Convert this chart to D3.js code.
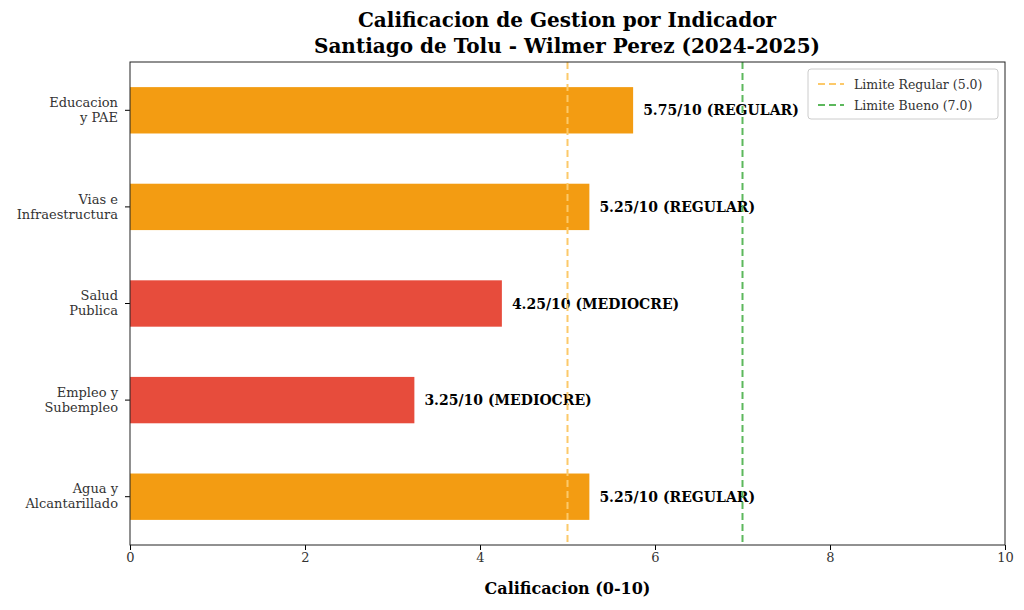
<!DOCTYPE html>
<html><head><meta charset="utf-8">
<script src="https://cdn.jsdelivr.net/npm/d3@7"></script>
<style>body{margin:0;background:#fff;font-family:"DejaVu Serif",serif;}</style>
</head><body>
<svg id="chart" width="1024" height="610"></svg>
<script>
var categories = [["Educacion","y PAE"],["Vias e","Infraestructura"],["Salud","Publica"],["Empleo y","Subempleo"],["Agua y","Alcantarillado"]];
var scores = [5.75, 5.25, 4.25, 3.25, 5.25];
var ratings = ["REGULAR","REGULAR","MEDIOCRE","MEDIOCRE","REGULAR"];
var xTicks = [0, 2, 4, 6, 8, 10];
var thresholds = [5.0, 7.0];
var thresholdLabels = ["Limite Regular (5.0)", "Limite Bueno (7.0)"];

var svg = d3.select("#chart");
var m = {left: 130, right: 1005, top: 62, bottom: 545};

var x = d3.scaleLinear().domain([0, 10]).range([m.left, m.right]);
var y = d3.scaleBand().domain(d3.range(categories.length)).range([m.top, m.bottom]).paddingInner(0.52).paddingOuter(0.26);

function color(v){ return v < 5 ? "#e74c3c" : "#f39c12"; }

svg.append("text").attr("x", 567).attr("y", 27).attr("text-anchor","middle")
  .attr("font-size", 20).attr("font-weight","bold").text("Calificacion de Gestion por Indicador");
svg.append("text").attr("x", 567).attr("y", 53).attr("text-anchor","middle")
  .attr("font-size", 20).attr("font-weight","bold").text("Santiago de Tolu - Wilmer Perez (2024-2025)");

// bars
svg.selectAll("rect.bar").data(scores).enter().append("rect")
  .attr("x", x(0)).attr("y", (d,i) => y(i))
  .attr("width", d => x(d) - x(0)).attr("height", y.bandwidth())
  .attr("fill", d => color(d));

svg.selectAll("text.val").data(scores).enter().append("text")
  .attr("x", d => x(d) + 10).attr("y", (d,i) => y(i) + y.bandwidth()/2 + 5)
  .attr("font-size", 14).attr("font-weight","bold")
  .text((d,i) => d.toFixed(2) + "/10 (" + ratings[i] + ")");

// threshold lines
var lineColors = ["#fcc96a", "#5cb85c"];
thresholds.forEach(function(t, i){
  svg.append("line").attr("x1", x(t)).attr("x2", x(t)).attr("y1", m.top).attr("y2", m.bottom)
    .attr("stroke", lineColors[i]).attr("stroke-width", 2).attr("stroke-dasharray","7,4");
});

// axes
svg.append("g").attr("transform","translate(0," + m.bottom + ")")
  .call(d3.axisBottom(x).tickValues(xTicks).tickSize(5).tickFormat(d3.format("d")))
  .call(g => g.select(".domain").remove())
  .selectAll("text").attr("font-size", 13).attr("font-family","DejaVu Serif").attr("fill","#333");

var yAxis = svg.append("g").attr("transform","translate(" + m.left + ",0)")
  .call(d3.axisLeft(y).tickSize(5).tickFormat(""));
yAxis.select(".domain").remove();
yAxis.selectAll(".tick").each(function(d){
  var t = d3.select(this).append("text").attr("x", -12).attr("text-anchor","end")
    .attr("font-size", 13).attr("fill","#333").attr("font-family","DejaVu Serif");
  t.append("tspan").attr("x", -12).attr("dy", "-0.25em").text(categories[d][0]);
  t.append("tspan").attr("x", -12).attr("dy", "1.15em").text(categories[d][1]);
});

svg.append("rect").attr("x", m.left).attr("y", m.top).attr("width", m.right - m.left)
  .attr("height", m.bottom - m.top).attr("fill","none").attr("stroke","#222").attr("stroke-width",1);

svg.append("text").attr("x", (m.left + m.right)/2).attr("y", 594).attr("text-anchor","middle")
  .attr("font-size", 16).attr("font-weight","bold").text("Calificacion (0-10)");

// legend
var lg = svg.append("g").attr("transform","translate(808,69)");
lg.append("rect").attr("width", 190).attr("height", 50).attr("rx", 3)
  .attr("fill","#fff").attr("stroke","#ccc");
thresholdLabels.forEach(function(l, i){
  var yy = 15 + i*21;
  lg.append("line").attr("x1", 10).attr("x2", 36).attr("y1", yy).attr("y2", yy)
    .attr("stroke", lineColors[i]).attr("stroke-width", 2).attr("stroke-dasharray","7,4");
  lg.append("text").attr("x", 46).attr("y", yy + 4.5).attr("font-size", 12.5).attr("fill","#333").text(l);
});
</script>
</body></html>
